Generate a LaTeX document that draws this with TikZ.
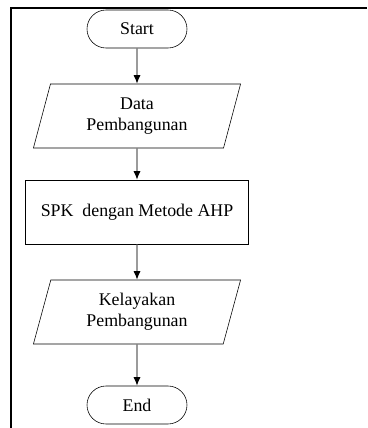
\documentclass[tikz,border=0pt]{standalone}
\usepackage{fontspec}
\setmainfont{Liberation Serif}
\usetikzlibrary{shapes.geometric,shapes.misc,arrows.meta}

\begin{document}
\begin{tikzpicture}[x=0.7pt,y=-0.7pt]
    \tikzstyle{terminal}=[draw, rounded rectangle, minimum width=70pt, minimum height=26.6pt, inner sep=0pt]
    \tikzstyle{io}=[draw, trapezium, trapezium left angle=65, trapezium right angle=115, trapezium stretches body, minimum width=145pt, minimum height=44.8pt, inner sep=0pt, align=center]
    \tikzstyle{process}=[draw, rectangle, minimum width=156pt, minimum height=44.8pt, inner sep=0pt]
    \tikzstyle{flow}=[draw=black!60, line width=0.8pt, -{Latex[black, length=6pt, width=5pt]}]
    \useasboundingbox (0,0) rectangle (367,428);
    \fontsize{12.5}{14.7}\selectfont

    % Frame
    \draw[line width=1.4pt] (10.5,428) -- (10.5,7.5) -- (367,7.5);

    % Steps
	\node[terminal] (start) at (137, 29) {Start};
	\node[io] (data) at (137, 116) {Data\\Pembangunan};
	\node[process] (spk) at (137, 212) {SPK\ \ dengan Metode AHP};
	\node[io] (layak) at (137, 312) {Kelayakan\\Pembangunan};
	\node[terminal] (end) at (137, 405) {End};

    % Connections
	\draw[flow] (start) -- (data);
	\draw[flow] (data) -- (spk);
	\draw[flow] (spk) -- (layak);
	\draw[flow] (layak) -- (end);
\end{tikzpicture}
\end{document}
